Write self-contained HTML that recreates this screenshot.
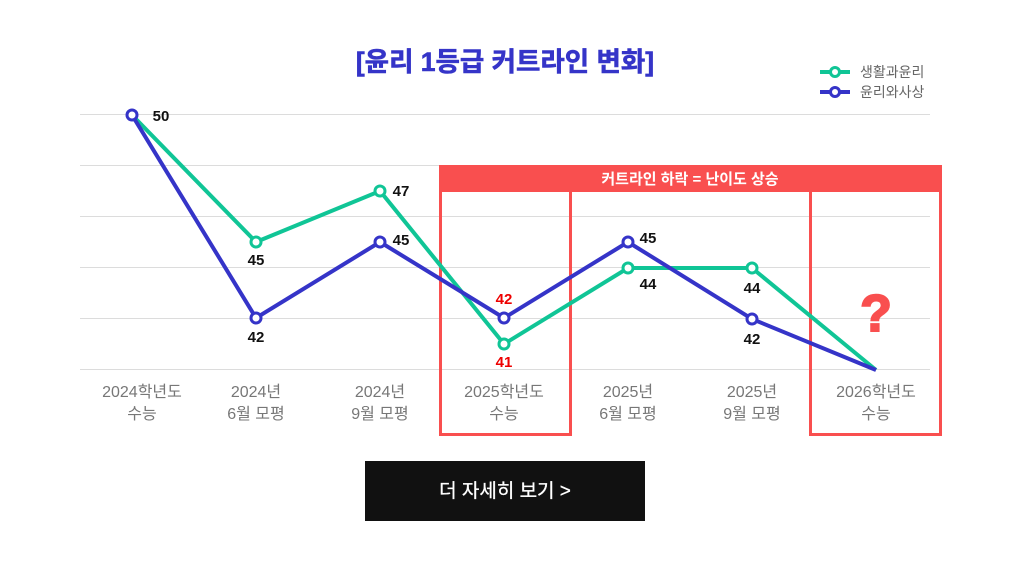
<!DOCTYPE html>
<html><head><meta charset="utf-8"><style>
body{margin:0;background:#fff;width:1010px;height:572px;overflow:hidden;font-family:"Liberation Sans","Noto Sans CJK KR",sans-serif}
</style></head><body>
<svg width="1010" height="572" xmlns="http://www.w3.org/2000/svg" font-family="Liberation Sans, Noto Sans CJK KR, sans-serif">
<text x="505" y="71" text-anchor="middle" font-size="26.5" font-weight="bold" fill="#3534c8" stroke="#3534c8" stroke-width="0.6">[윤리 1등급 커트라인 변화]</text>
<g stroke="#dcdcdc" stroke-width="1">
<line x1="80" y1="114.5" x2="930" y2="114.5"/><line x1="80" y1="165.5" x2="930" y2="165.5"/><line x1="80" y1="216.5" x2="930" y2="216.5"/><line x1="80" y1="267.5" x2="930" y2="267.5"/><line x1="80" y1="318.5" x2="930" y2="318.5"/><line x1="80" y1="369.5" x2="930" y2="369.5"/>
</g>
<rect x="439" y="165" width="503" height="27" fill="#f94f4f"/>
<text x="690" y="184" text-anchor="middle" font-size="15" font-weight="bold" fill="#fff">커트라인 하락 = 난이도 상승</text>
<rect x="440.5" y="166.5" width="130" height="268" fill="none" stroke="#f94f4f" stroke-width="3"/>
<rect x="810.5" y="166.5" width="130" height="268" fill="none" stroke="#f94f4f" stroke-width="3"/>
<polyline points="132,115 256,242 380,191 504,344 628,268 752,268 876,370" fill="none" stroke="#10c596" stroke-width="4"/>
<polyline points="132,115 256,318 380,242 504,318 628,242 752,319 876,370" fill="none" stroke="#3534c8" stroke-width="4"/>
<g fill="#fff" stroke="#10c596" stroke-width="3">
<circle cx="256" cy="242" r="5"/><circle cx="380" cy="191" r="5"/><circle cx="504" cy="344" r="5"/><circle cx="628" cy="268" r="5"/><circle cx="752" cy="268" r="5"/></g>
<g fill="#fff" stroke="#3534c8" stroke-width="3">
<circle cx="132" cy="115" r="5"/><circle cx="256" cy="318" r="5"/><circle cx="380" cy="242" r="5"/><circle cx="504" cy="318" r="5"/><circle cx="628" cy="242" r="5"/><circle cx="752" cy="319" r="5"/></g>
<g font-size="15" font-weight="bold" fill="#111" text-anchor="middle">
<text x="161" y="121">50</text><text x="256" y="265">45</text><text x="256" y="342">42</text>
<text x="401" y="196">47</text><text x="401" y="245">45</text>
<text x="504" y="304" fill="#e00">42</text><text x="504" y="367" fill="#e00">41</text>
<text x="648" y="243">45</text><text x="648" y="289">44</text>
<text x="752" y="293">44</text><text x="752" y="344">42</text>
</g>
<text x="876" y="331" text-anchor="middle" font-size="52" font-weight="bold" fill="#f94f4f" stroke="#f94f4f" stroke-width="2">?</text>
<g font-size="16" fill="#777" text-anchor="middle">
<text x="142" y="397">2024학년도</text><text x="142" y="419">수능</text>
<text x="256" y="397">2024년</text><text x="256" y="419">6월 모평</text>
<text x="380" y="397">2024년</text><text x="380" y="419">9월 모평</text>
<text x="504" y="397">2025학년도</text><text x="504" y="419">수능</text>
<text x="628" y="397">2025년</text><text x="628" y="419">6월 모평</text>
<text x="752" y="397">2025년</text><text x="752" y="419">9월 모평</text>
<text x="876" y="397">2026학년도</text><text x="876" y="419">수능</text>
</g>
<line x1="820" y1="72" x2="850" y2="72" stroke="#10c596" stroke-width="4"/><circle cx="835" cy="72" r="4.5" fill="#fff" stroke="#10c596" stroke-width="3"/>
<line x1="820" y1="92" x2="850" y2="92" stroke="#3534c8" stroke-width="4"/><circle cx="835" cy="92" r="4.5" fill="#fff" stroke="#3534c8" stroke-width="3"/>
<text x="860" y="77" font-size="14" fill="#666">생활과윤리</text>
<text x="860" y="97" font-size="14" fill="#666">윤리와사상</text>
<rect x="365" y="461" width="280" height="60" fill="#111"/>
<text x="505" y="497" text-anchor="middle" font-size="19" fill="#fff" stroke="#fff" stroke-width="0.3">더 자세히 보기  &gt;</text>
</svg>
</body></html>
